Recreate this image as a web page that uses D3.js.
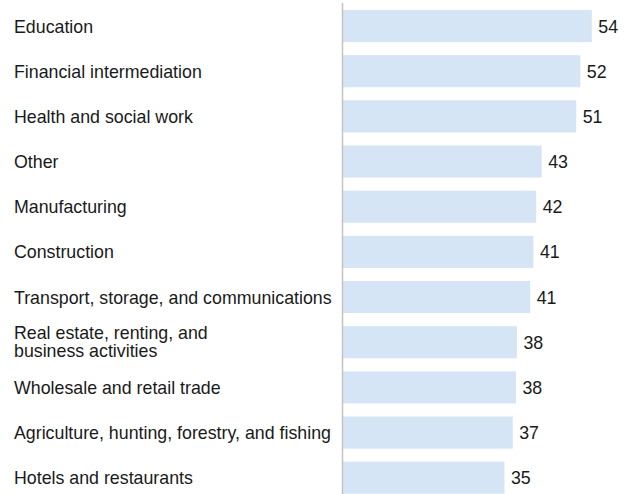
<!DOCTYPE html>
<html>
<head>
<meta charset="utf-8">
<script src="https://cdn.jsdelivr.net/npm/d3@7"></script>
<style>
  html, body { margin: 0; padding: 0; background: #fff; }
  svg { display: block; }
  text { font-family: "Liberation Sans", Arial, sans-serif; }
</style>
</head>
<body>
<svg id="chart" width="631" height="494"></svg>
<script>
const categories = [
  ["Education"],
  ["Financial intermediation"],
  ["Health and social work"],
  ["Other"],
  ["Manufacturing"],
  ["Construction"],
  ["Transport, storage, and communications"],
  ["Real estate, renting, and", "business activities"],
  ["Wholesale and retail trade"],
  ["Agriculture, hunting, forestry, and fishing"],
  ["Hotels and restaurants"]
];
const values = [54.1, 51.6, 50.7, 43.2, 42.0, 41.4, 40.7, 37.8, 37.6, 36.9, 35.1];

const svg = d3.select("#chart");
const fs = 17.8;
const x0 = 343;
const step = 45.17;
const pi = 0.29, po = 0.145;
const yStart = 10 - step * po;
const y = d3.scaleBand()
  .domain(d3.range(values.length))
  .range([yStart, yStart + step * values.length])
  .paddingInner(pi)
  .paddingOuter(po);

const x = d3.scaleLinear().domain([0, 54.1]).range([x0, x0 + 54.1 * 4.6]);

svg.append("g").selectAll("rect")
  .data(values)
  .join("rect")
  .attr("x", x(0))
  .attr("y", (d, i) => y(i))
  .attr("width", d => x(d) - x(0))
  .attr("height", y.bandwidth())
  .attr("fill", "#d6e5f5");

svg.append("line")
  .attr("x1", x0 - 0.5).attr("x2", x0 - 0.5)
  .attr("y1", 3).attr("y2", 494)
  .attr("stroke", "#c4c4c4")
  .attr("stroke-width", 1.5);

svg.append("g").selectAll("text")
  .data(values)
  .join("text")
  .attr("x", d => x(d) + 6.5)
  .attr("y", (d, i) => y(i) + y.bandwidth() / 2)
  .attr("dy", "0.37em")
  .attr("font-size", fs)
  .attr("fill", "#1a1a1a")
  .text(d => d3.format(".0f")(d));

const labels = svg.append("g").selectAll("text")
  .data(categories)
  .join("text")
  .attr("x", 14)
  .attr("y", (d, i) => y(i) + y.bandwidth() / 2)
  .attr("font-size", fs)
  .attr("fill", "#1a1a1a");

labels.each(function(lines) {
  const t = d3.select(this);
  const n = lines.length;
  lines.forEach((ln, j) => {
    t.append("tspan")
      .attr("x", 14)
      .attr("dy", j === 0 ? (n === 1 ? "0.37em" : "-0.18em") : "0.99em")
      .text(ln);
  });
});
</script>
</body>
</html>
